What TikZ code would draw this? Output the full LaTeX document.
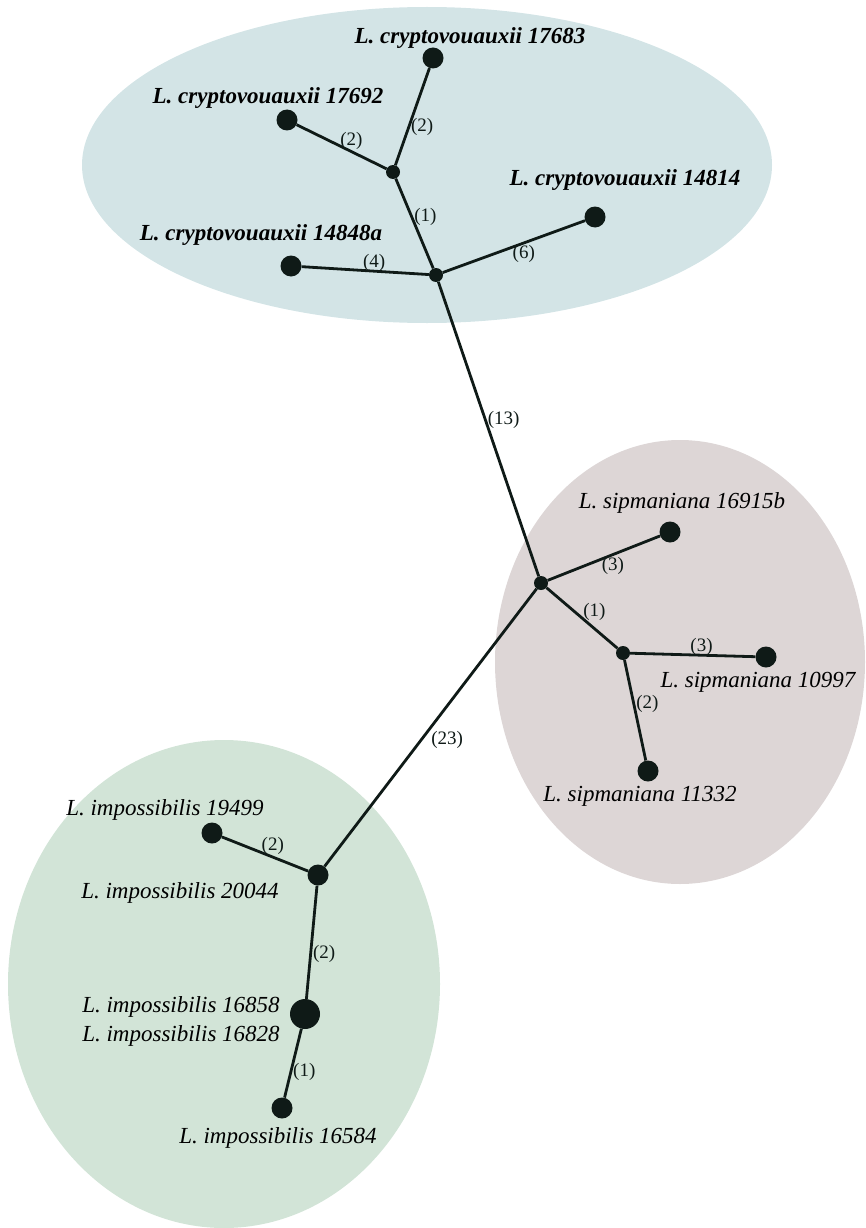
\documentclass[tikz,border=0pt]{standalone}
\usepackage{fontspec}
\setmainfont{Liberation Serif}
\usepackage{xcolor}

\begin{document}
\begin{tikzpicture}[x=1pt,y=-1pt,
  leaf/.style={circle,fill=ink,inner sep=0pt,minimum size=21},
  hub/.style={circle,fill=ink,inner sep=0pt,minimum size=14},
  specname/.style={font=\fontsize{23}{27}\selectfont\itshape,inner sep=0pt},
  boldspec/.style={font=\fontsize{23}{27}\selectfont\bfseries\itshape,inner sep=0pt},
  steps/.style={font=\fontsize{19}{21}\selectfont,inner sep=1pt,text=ink},
  link/.style={line width=2.8pt,draw=ink}]
\definecolor{ink}{HTML}{0F1A17}
\definecolor{cryptobg}{HTML}{D3E4E6}
\definecolor{sipbg}{HTML}{DDD6D6}
\definecolor{impbg}{HTML}{D2E4D7}
\useasboundingbox (0,0) rectangle (865,1228);
% groups
\fill [cryptobg] (427,165) ellipse (345 and 158);
\fill [sipbg] (680,662) ellipse (185 and 222);
\fill [impbg] (224,984) ellipse (216 and 244);
% specimens and median vectors
\foreach \nm/\px/\py in {c17683/433/58,c17692/287/120,c14814/595/217,c14848a/291/266,
  s16915b/670/532,s10997/766/657,s11332/648/771,i19499/212/833,i20044/318/875,i16584/282/1108}
  {\node [leaf] (\nm) at (\px,\py) {};}
\node [leaf,minimum size=30] (i16858) at (305,1014) {};
\foreach \nm/\px/\py in {ca/393/172,cb/436/275,sa/541/583,sb/623/653}
  {\node [hub] (\nm) at (\px,\py) {};}
% names
\foreach \nm/\px/\py/\txt in {t17683/470/38/L. cryptovouauxii 17683,t17692/268/98/L. cryptovouauxii 17692,
  t14814/625/180/L. cryptovouauxii 14814,t14848a/261/235/L. cryptovouauxii 14848a}
  {\node [boldspec] (\nm) at (\px,\py) {\txt};}
\foreach \nm/\px/\py/\txt in {t16915b/682/503/L. sipmaniana 16915b,t10997/758/682/L. sipmaniana 10997,
  t11332/640/796/L. sipmaniana 11332,t19499/165/810/L. impossibilis 19499,
  t20044/180/893/L. impossibilis 20044,t16858/181/1007/L. impossibilis 16858,
  t16828/181/1036/L. impossibilis 16828,t16584/278/1138/L. impossibilis 16584}
  {\node [specname] (\nm) at (\px,\py) {\txt};}
% mutational steps
\draw [link] (ca) -- node [steps,pos=.39,above] {(2)} (c17692);
\draw [link] (ca) -- node [steps,pos=.39,right] {(2)} (c17683);
\draw [link] (ca) -- node [steps,pos=.43,right] {(1)} (cb);
\draw [link] (cb) -- node [steps,pos=.43,above=-3pt] {(4)} (c14848a);
\draw [link] (cb) -- node [steps,pos=.57,below] {(6)} (c14814);
\draw [link] (cb) -- node [steps,pos=.47,right] {(13)} (sa);
\draw [link] (sa) -- node [steps,pos=.58,below] {(3)} (s16915b);
\draw [link] (sa) -- node [steps,pos=.4,right=6pt] {(1)} (sb);
\draw [link] (sb) -- node [steps,pos=.57,above=-3pt] {(3)} (s10997);
\draw [link] (sb) -- node [steps,pos=.44,right] {(2)} (s11332);
\draw [link] (sa) -- node [steps,pos=.545,right=8pt] {(23)} (i20044);
\draw [link] (i20044) -- node [steps,pos=.41,above] {(2)} (i19499);
\draw [link] (i20044) -- node [steps,pos=.6,right] {(2)} (i16858);
\draw [link] (i16858) -- node [steps,pos=.63,right] {(1)} (i16584);
\end{tikzpicture}
\end{document}
